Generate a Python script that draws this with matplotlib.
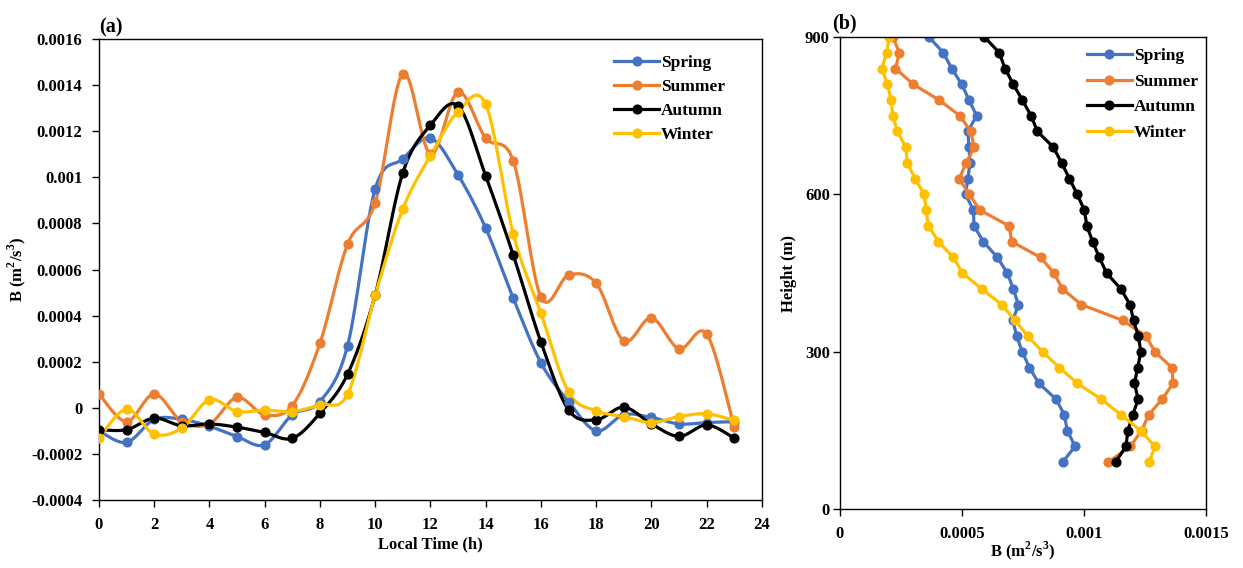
import numpy as np
import matplotlib
matplotlib.use("Agg")
import matplotlib.pyplot as plt
from matplotlib.ticker import FuncFormatter

plt.rcParams['font.family'] = ['Liberation Serif', 'DejaVu Serif']
plt.rcParams['font.weight'] = 'bold'
plt.rcParams['mathtext.fontset'] = 'custom'
plt.rcParams['mathtext.rm'] = 'Liberation Serif:bold'
plt.rcParams['mathtext.bf'] = 'Liberation Serif:bold'

# ---- (a) diurnal cycle ----
hours = list(range(24))
spring_a = [-0.00010, -0.00015, -0.00005, -0.00005, -0.00008, -0.000125, -0.00016, -0.00003,
            0.000027, 0.00027, 0.00095, 0.00108, 0.00117, 0.00101, 0.00078, 0.000475,
            0.000195, 0.000027, -0.00010, -0.00003, -0.000042, -0.00007, -0.000064, -0.00006]
summer_a = [0.00006, -0.00006, 0.00006, -0.00006, -0.00007, 0.000045, -0.00003, 0.00001,
            0.00028, 0.00071, 0.00089, 0.00145, 0.00110, 0.00137, 0.00117, 0.00107,
            0.00048, 0.000576, 0.00054, 0.00029, 0.00039, 0.000256, 0.00032, -0.000085]
autumn_a = [-0.000095, -0.000095, -0.000045, -0.000078, -0.00007, -0.000084, -0.000107, -0.000132,
            -0.000023, 0.000146, 0.00049, 0.00102, 0.001226, 0.00131, 0.001006, 0.000662,
            0.000285, -0.000009, -0.000052, 0.000003, -0.00007, -0.000124, -0.000074, -0.000132]
winter_a = [-0.000132, -0.000006, -0.000114, -0.000088, 0.000035, -0.000016, -0.00001, -0.000016,
            0.000013, 0.000059, 0.00049, 0.000863, 0.001094, 0.001285, 0.001317, 0.000753,
            0.00041, 0.000068, -0.000013, -0.000038, -0.000064, -0.000038, -0.000026, -0.000055]

# ---- (b) vertical profiles ----
heights = list(range(900, 60, -30))
spring_b = [0.000366, 0.000425, 0.000459, 0.000500, 0.000530, 0.000561, 0.000525, 0.000530,
            0.000534, 0.000525, 0.000516, 0.000548, 0.000550, 0.000589, 0.000646, 0.000687,
            0.000711, 0.000732, 0.000709, 0.000725, 0.000748, 0.000777, 0.000816, 0.000886,
            0.000920, 0.000932, 0.000964, 0.000913]
summer_b = [0.000218, 0.000245, 0.000229, 0.000302, 0.000407, 0.000493, 0.000537, 0.000551,
            0.000518, 0.000490, 0.000531, 0.000575, 0.000694, 0.000705, 0.000823, 0.000878,
            0.000912, 0.000990, 0.001159, 0.001254, 0.001291, 0.001360, 0.001365, 0.001320,
            0.001265, 0.001236, 0.001190, 0.001100]
autumn_b = [0.000593, 0.000654, 0.000677, 0.000711, 0.000748, 0.000784, 0.000810, 0.000875,
            0.000909, 0.000941, 0.000973, 0.001002, 0.001012, 0.001036, 0.001063, 0.001093,
            0.001151, 0.001189, 0.001203, 0.001223, 0.001233, 0.001220, 0.001207, 0.001222,
            0.001200, 0.001180, 0.001172, 0.001130]
winter_b = [0.000203, 0.000193, 0.000173, 0.000196, 0.000211, 0.000218, 0.000237, 0.000271,
            0.000278, 0.000309, 0.000347, 0.000354, 0.000364, 0.000405, 0.000466, 0.000503,
            0.000582, 0.000664, 0.000718, 0.000770, 0.000831, 0.000900, 0.000973, 0.001070,
            0.001153, 0.001232, 0.001290, 0.001268]

seasons = ['Spring', 'Summer', 'Autumn', 'Winter']
colors = ['#4472C4', '#ED7D31', '#000000', '#FFC000']
b_label = r'B (m$^{2}$/s$^{3}$)'


def smooth(x, y, n=20):
    # Excel-like smoothed line (Catmull-Rom bezier)
    x = np.asarray(x, float)
    y = np.asarray(y, float)
    px = np.concatenate([[x[0]], x, [x[-1]]])
    py = np.concatenate([[y[0]], y, [y[-1]]])
    t = np.linspace(0, 1, n)[:, None]
    xs, ys = [], []
    for i in range(1, len(px) - 2):
        p0 = np.array([px[i], py[i]])
        p3 = np.array([px[i + 1], py[i + 1]])
        c1 = p0 + (p3 - np.array([px[i - 1], py[i - 1]])) / 6
        c2 = p3 - (np.array([px[i + 2], py[i + 2]]) - p0) / 6
        b = (1 - t) ** 3 * p0 + 3 * (1 - t) ** 2 * t * c1 + 3 * (1 - t) * t ** 2 * c2 + t ** 3 * p3
        xs.append(b[:, 0])
        ys.append(b[:, 1])
    return np.concatenate(xs), np.concatenate(ys)


fmt = FuncFormatter(lambda v, p: '%g' % round(v, 6))
lw, ms = 2.3, 6.3

fig = plt.figure(figsize=(12.43, 5.68), dpi=100)
ax1 = fig.add_axes([0.0796, 0.1197, 0.5334, 0.8116])
ax2 = fig.add_axes([0.6754, 0.1033, 0.2949, 0.8315])

for name, col, vals in zip(seasons, colors, [spring_a, summer_a, autumn_a, winter_a]):
    sx, sy = smooth(hours, vals)
    ax1.plot(sx, sy, color=col, lw=lw, zorder=2)
    ax1.plot(hours, vals, 'o', color=col, ms=ms, zorder=3)
    ax1.plot([], [], '-o', color=col, lw=lw, ms=ms, label=name)

ax1.set_xlim(0, 24)
ax1.set_ylim(-0.0004, 0.0016)
ax1.set_xticks(np.arange(0, 25, 2))
ax1.set_yticks(np.arange(-0.0004, 0.00161, 0.0002))
ax1.yaxis.set_major_formatter(fmt)
ax1.set_xlabel('Local Time (h)', fontsize=12, fontweight='bold', labelpad=3)
ax1.set_ylabel(b_label, fontsize=12, fontweight='bold', labelpad=2)
ax1.text(0.0, 1.003, '(a)', transform=ax1.transAxes, fontsize=14.5, fontweight='bold', va='bottom')
ax1.legend(loc='upper right', bbox_to_anchor=(0.968, 1.0), frameon=False, fontsize=12.5,
           handlelength=2.6, labelspacing=0.46, handletextpad=0.1)

for name, col, vals in zip(seasons, colors, [spring_b, summer_b, autumn_b, winter_b]):
    ax2.plot(vals, heights, '-o', color=col, lw=lw, ms=ms, label=name)

ax2.set_xlim(0, 0.0015)
ax2.set_ylim(0, 900)
ax2.set_xticks([0, 0.0005, 0.001, 0.0015])
ax2.set_yticks([0, 300, 600, 900])
ax2.xaxis.set_major_formatter(fmt)
ax2.set_xlabel(b_label, fontsize=12, fontweight='bold', labelpad=-2)
ax2.set_ylabel('Height (m)', fontsize=12, fontweight='bold', labelpad=6)
ax2.text(-0.02, 1.008, '(b)', transform=ax2.transAxes, fontsize=14.5, fontweight='bold', va='bottom')
ax2.legend(loc='upper right', bbox_to_anchor=(1.02, 1.01), frameon=False, fontsize=12.5,
           handlelength=2.6, labelspacing=0.55, handletextpad=0.1)

for ax in (ax1, ax2):
    for s in ax.spines.values():
        s.set_linewidth(1.0)
    ax.tick_params(direction='out', length=5, width=1, labelsize=12, pad=7)
    for lab in ax.get_xticklabels() + ax.get_yticklabels():
        lab.set_fontweight('bold')
ax2.tick_params(axis='y', pad=2)

fig.savefig('out.png', dpi=100)
